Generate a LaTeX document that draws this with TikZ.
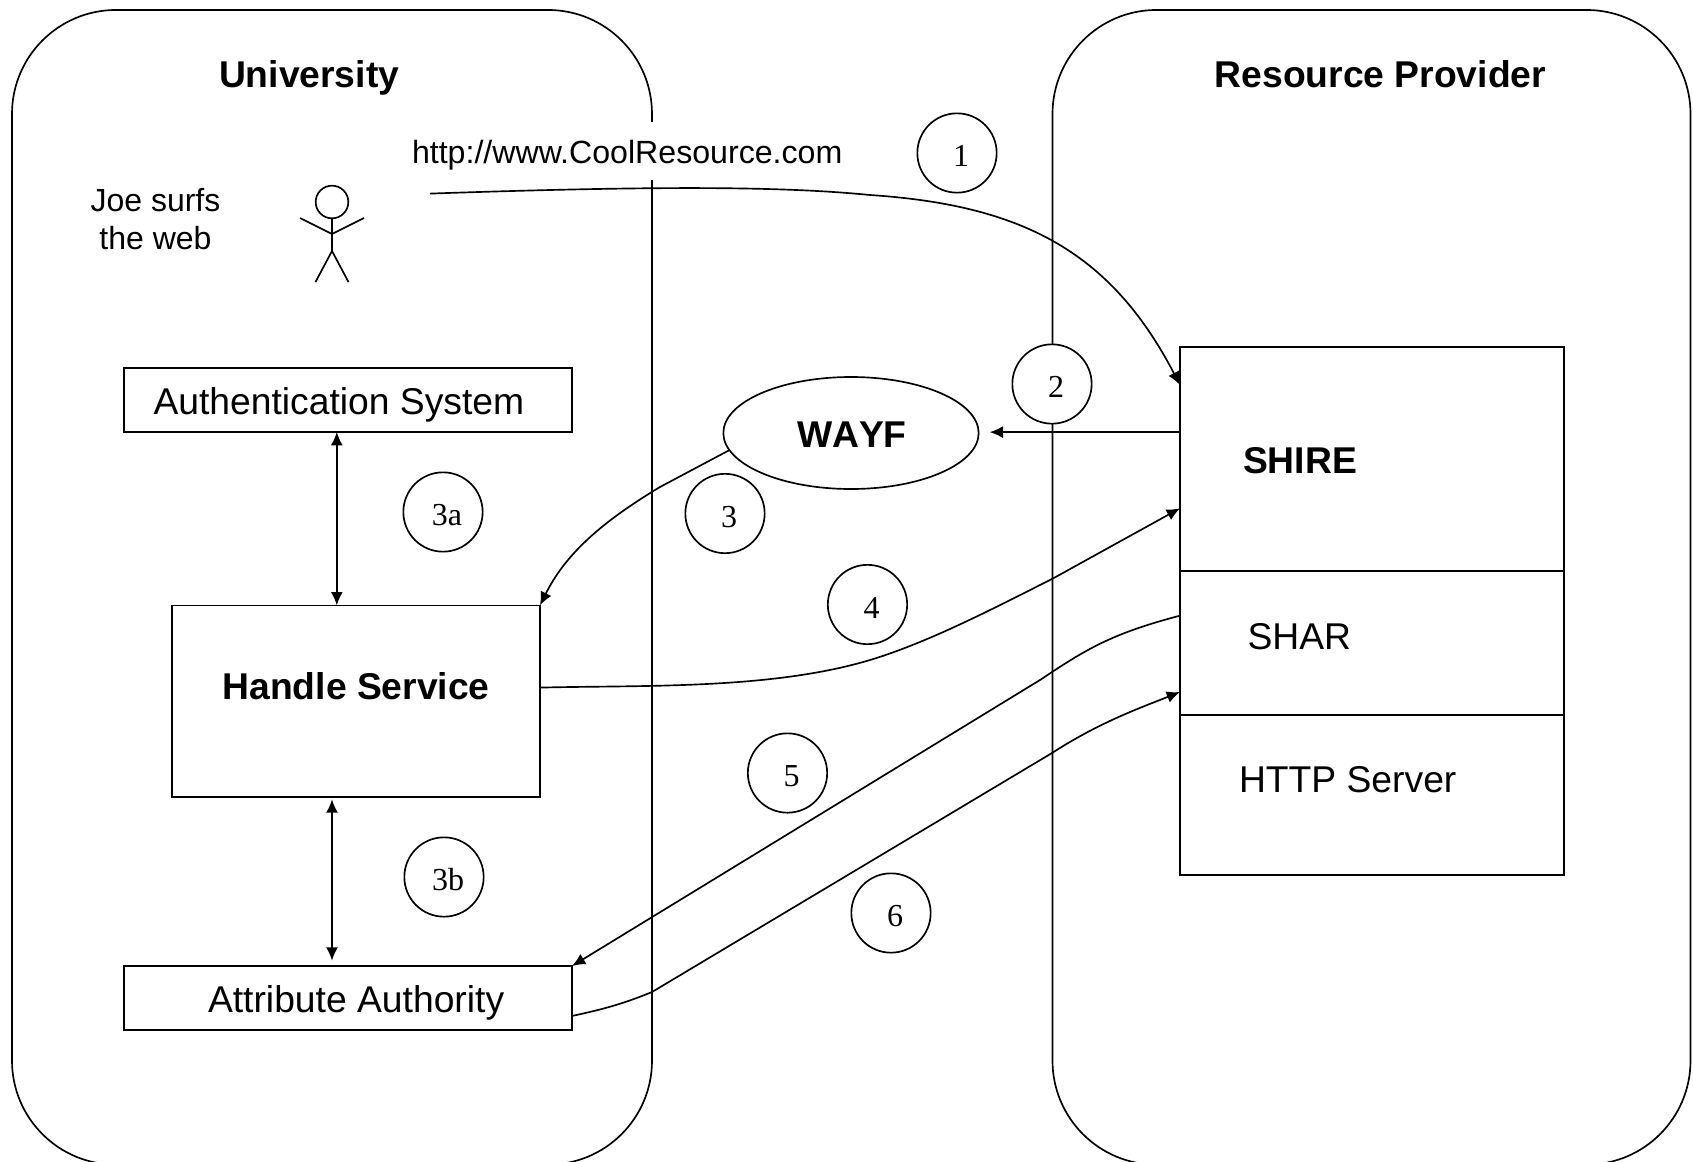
\documentclass[tikz,border=0pt]{standalone}
\usepackage{fontspec}
\setmainfont{Liberation Sans}
\newfontfamily\numfont{Liberation Serif}
\usetikzlibrary{arrows.meta,calc,shapes.geometric}
\newcommand{\numtxt}[1]{\hspace*{6pt}\raisebox{-10.4pt}[0pt][0pt]{#1}}
\tikzset{
  x=0.75pt,y=-0.75pt,
  every node/.style={outer sep=0pt},
  line/.style={line width=1.25pt,draw=black},
  zone/.style={line,rectangle,rounded corners=78pt,inner sep=0pt},
  boxnode/.style={line,rectangle,inner sep=0pt,fill=white},
  sans/.style={anchor=base west,inner sep=0pt,font=\fontsize{27.95}{33}\selectfont},
  sansb/.style={anchor=base west,inner sep=0pt,font=\fontsize{27.95}{33}\selectfont\bfseries},
  small/.style={anchor=base west,inner sep=0pt,font=\fontsize{24.1}{28.5}\selectfont},
  numc/.style={line,circle,fill=white,minimum size=59.5pt,inner sep=0pt,font=\fontsize{24}{28}\numfont},
  conn/.style={line,-{Latex[length=10pt,width=9pt]}},
  both/.style={line,{Latex[length=10pt,width=9pt]}-{Latex[length=10pt,width=9pt]}},
  plain/.style={line}
}
\begin{document}
\begin{tikzpicture}
\useasboundingbox (0,0) rectangle (1693,1161);
% zones
\node[zone,minimum width=480pt,minimum height=866pt] (univ) at (332,587.3) {};
\node[zone,minimum width=478.5pt,minimum height=866pt] (rp) at (1371.5,587.3) {};
\node[sansb] (univlabel) at (219,87) {University};
\node[sansb] (rplabel) at (1214.7,87) {Resource Provider};
% url with white background interrupting the zone outline
\node[small,fill=white,text height=30.75pt,text depth=12.75pt] (url) at (412,163) {http://www.CoolResource.com};
% person
\node[anchor=base,inner sep=0pt,align=center,font=\fontsize{24}{28.5}\selectfont] (joe) at (155.5,249) {Joe surfs\\the web};
\node[line,circle,minimum size=24.5pt,inner sep=0pt] (head) at (332,202) {};
\coordinate (neck) at (332,234);
\coordinate (hip) at (332,251);
\coordinate (handL) at (300,218);
\coordinate (handR) at (364,218);
\coordinate (footL) at (315.5,282);
\coordinate (footR) at (348.5,282);
\draw[plain] (head.south) -- (hip);
\draw[plain] (handL) -- (neck) -- (handR);
\draw[plain] (footL) -- (hip) -- (footR);
% university boxes
\node[boxnode,minimum width=336pt,minimum height=48pt] (auth) at (348,400) {};
\node[sans] (authlabel) at (153.5,414) {Authentication System};
\node[boxnode,minimum width=276pt,minimum height=143.5pt] (hs) at (356,701) {};
\node[sansb] (hslabel) at (222.5,699) {Handle Service};
\node[boxnode,minimum width=336pt,minimum height=48pt] (attr) at (348,998) {};
\node[sans] (attrlabel) at (208,1012) {Attribute Authority};
% provider stack
\node[boxnode,minimum width=288pt,minimum height=168pt] (shire) at (1372,459) {};
\node[boxnode,minimum width=288pt,minimum height=108pt] (shar) at (1372,643) {};
\node[boxnode,minimum width=288pt,minimum height=120pt] (http) at (1372,795) {};
\node[sansb] (shirelabel) at (1243,473) {SHIRE};
\node[sans] (sharlabel) at (1247.5,649) {SHAR};
\node[sans] (httplabel) at (1239,792) {HTTP Server};
% WAYF
\node[line,ellipse,fill=white,minimum width=191.5pt,minimum height=84pt,inner sep=0pt] (wayf) at (851,433) {};
\node[sansb] (wayflabel) at (797,447) {W\kern0ptA\kern0ptY\kern0ptF};
% endpoints on the nodes
\coordinate (joeout) at (430,193.6);
\coordinate (in1) at ($(shire.north west)!.17!(shire.south west)$);
\coordinate (out2) at ($(shire.north west)!.38!(shire.south west)$);
\coordinate (in4) at ($(shire.north west)!.72!(shire.south west)$);
\coordinate (out4) at ($(hs.north east)!.43!(hs.south east)$);
\coordinate (out5) at ($(shar.north west)!.31!(shar.south west)$);
\coordinate (out6) at ($(attr.north east)!.78!(attr.south east)$);
\coordinate (in6) at ($(shar.north west)!.84!(shar.south west)$);
\coordinate (xa) at ($(auth.south west)!.475!(auth.south east)$);
\coordinate (xb) at ($(attr.north west)!.4643!(attr.north east)$);
% connectors
\draw[conn] (joeout) .. controls (650,186) and (780,186) .. (870,195) .. controls (1020,205) and (1110,250) .. (in1);
\draw[conn,shorten >=8.25pt] (out2) -- (out2 -| wayf.east);
\draw[conn] (wayf.188) -- (660,487) .. controls (600,523) and (565,555) .. (hs.north east);
\draw[conn] (out4) .. controls (640,685) and (770,690) .. (870,660) .. controls (930,642) and (1000,605) .. (1052,579) -- (in4);
\draw[conn] (out5) .. controls (1110,634) and (1085,650) .. (1040,680) -- (attr.north east);
\draw[conn] (out6) .. controls (605,1009) and (625,1003) .. (652,992) -- (1052,753) .. controls (1100,722) and (1140,708) .. (in6);
\draw[both] (xa) -- (xa |- hs.north);
\draw[both,shorten <=2pt,shorten >=4pt] (xb |- hs.south) -- (xb);
% numbered circles
\node[numc] (c1) at (957,153) {\numtxt{1}};
\node[numc] (c2) at (1052,384) {\numtxt{2}};
\node[numc] (c3a) at (443,512) {\numtxt{3a}};
\node[numc] (c3) at (725,513.5) {\numtxt{3}};
\node[numc] (c3b) at (444,877) {\numtxt{3b}};
\node[numc] (c4) at (867.5,604.5) {\numtxt{4}};
\node[numc] (c5) at (787.5,773) {\numtxt{5}};
\node[numc] (c6) at (891,913) {\numtxt{6}};
\end{tikzpicture}
\end{document}
